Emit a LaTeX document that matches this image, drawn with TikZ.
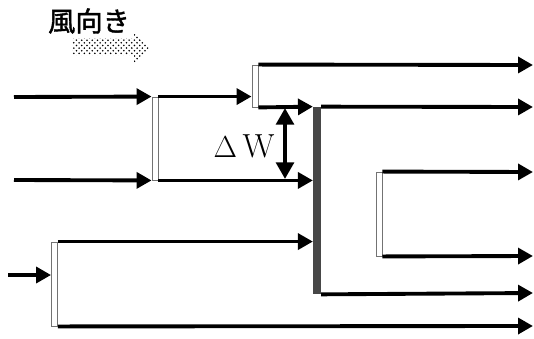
\documentclass[tikz,border=0pt]{standalone}
\usepackage{fontspec}
\newfontfamily\jpfont[FakeBold=1.5]{Noto Sans CJK JP}
\usetikzlibrary{arrows.meta,patterns}

\tikzset{
  flow/.style={line width=2.2pt,-{Triangle[length=8.5pt,width=9pt]}},
  splitbar/.style={draw=black!55,line width=0.5pt,fill=white,inner sep=0pt,minimum width=6*0.02cm},
  mixbar/.style={fill=black!72,draw=none,inner sep=0pt,minimum width=7.5*0.02cm},
  gap/.style={line width=2.4pt,{Triangle[length=9.5pt,width=10pt]}-{Triangle[length=9.5pt,width=10pt]}},
}

\begin{document}
\begin{tikzpicture}[x=0.02cm,y=-0.02cm]
  \useasboundingbox (0,0) rectangle (534,338);
  % Wind direction
  \node[font=\jpfont\fontsize{15.5}{17}\selectfont] (wind) at (89,21) {風向き};
  \fill[pattern=crosshatch dots,pattern color=black]
    (72,38) -- (134,38) -- (134,31) -- (150,47) -- (134,63) -- (134,55) -- (72,55) -- cycle;
  % Bars (pixel coordinates, y downward)
  \node[splitbar,minimum height=83*0.02cm] (b1) at (155,138.5) {};
  \node[splitbar,minimum height=42*0.02cm] (b2) at (255,86) {};
  \node[splitbar,minimum height=84*0.02cm] (b3) at (54.5,284) {};
  \node[splitbar,minimum height=84*0.02cm] (b4) at (379,214) {};
  \node[mixbar,minimum height=187*0.02cm] (m) at (317,200.5) {};
  % Free ends
  \coordinate (in1) at (14,97);
  \coordinate (in2) at (14,180);
  \coordinate (in3) at (8,275);
  \coordinate (out1) at (533,65);
  \coordinate (out2) at (533,107);
  \coordinate (out3) at (533,172);
  \coordinate (out4) at (533,256);
  \coordinate (out5) at (533,293);
  \coordinate (out6) at (533,326);
  % Flows
  \draw[flow] (in1) -- (b1.north west);
  \draw[flow] (in2) -- (b1.south west);
  \draw[flow] (b1.north east) -- (b2.west |- b1.north east);
  \draw[flow] (b1.south east) -- (m.west |- b1.south east);
  \draw[flow] (b2.north east) -- (out1);
  \draw[flow] (b2.south east) -- (m.north west);
  \draw[flow] (m.north east) -- (out2);
  \draw[flow] (m.south east) -- (out5);
  \draw[flow] (in3) -- (b3.west |- in3);
  \draw[flow] (b3.north east) -- (m.west |- b3.north east);
  \draw[flow] (b3.south east) -- (out6);
  \draw[flow] (b4.north east) -- (out3);
  \draw[flow] (b4.south east) -- (out4);
  % Gap
  \coordinate (dwtop) at (285,108);
  \coordinate (dwbot) at (285,179);
  \draw[gap] (dwtop) -- (dwbot);
  \node[font=\fontsize{19}{21}\selectfont] (dw) at (244,146) {$\Delta$\,W};
\end{tikzpicture}
\end{document}
